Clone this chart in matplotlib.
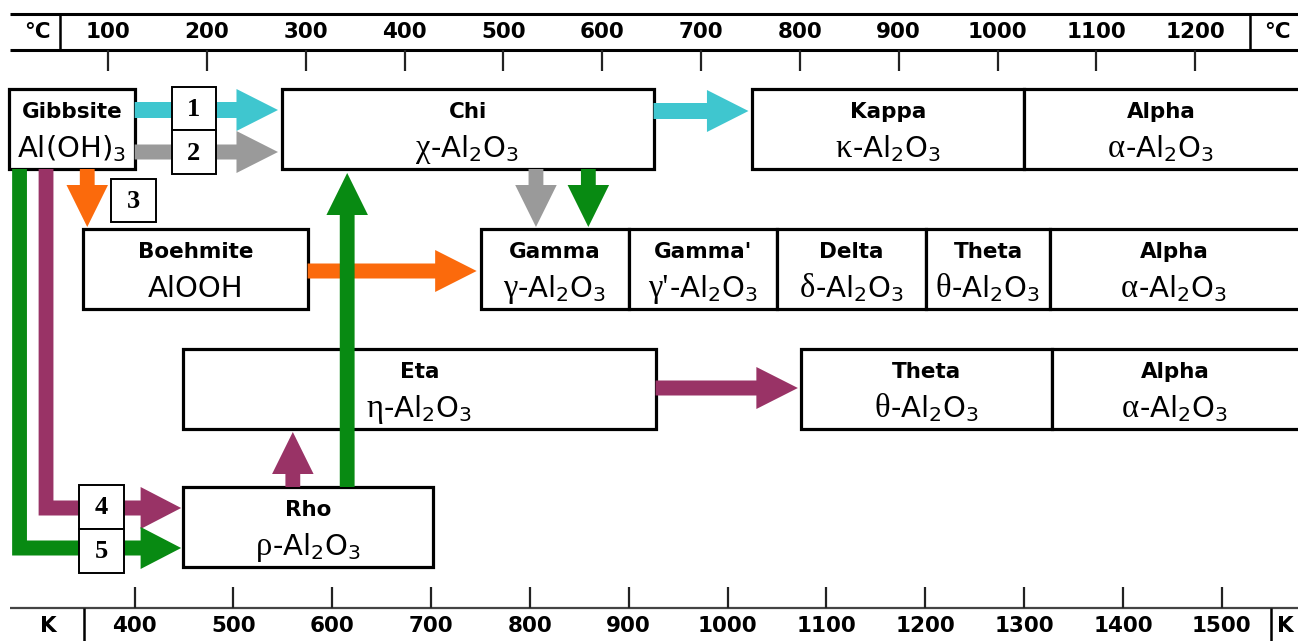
import numpy as np
import matplotlib.pyplot as plt
from matplotlib.patches import Rectangle, FancyArrow, Polygon
from matplotlib.transforms import offset_copy

# temperature scales (top in degC, bottom in K)
celsius_ticks = [100, 200, 300, 400, 500, 600, 700, 800, 900, 1000, 1100, 1200]
kelvin_ticks = [400, 500, 600, 700, 800, 900, 1000, 1100, 1200, 1300, 1400, 1500]

# phase fields, temperature limits in degC (None = open ended)
row0_names = ['Chi', 'Kappa', 'Alpha']
row0_greek = ['χ', 'κ', 'α']
row0_lo = [276, 752, 1027]
row0_hi = [652, 1027, None]

row1_names = ['Gamma', "Gamma'", 'Delta', 'Theta', 'Alpha']
row1_greek = ['γ', "γ'", 'δ', 'θ', 'α']
row1_lo = [477, 627, 777, 928, 1053]
row1_hi = [627, 777, 928, 1053, None]

row2_names = ['Eta', 'Theta', 'Alpha']
row2_greek = ['η', 'θ', 'α']
row2_lo = [176, 801, 1055]
row2_hi = [654, 1055, None]

row3_names = ['Rho']
row3_greek = ['ρ']
row3_lo = [176]
row3_hi = [429]

# starting materials
gibbsite_lo, gibbsite_hi = 0, 127
boehmite_lo, boehmite_hi = 75, 302

CYAN = '#3fc6cf'
GRAY = '#9a9a9a'
ORANGE = '#fb6a0c'
GREEN = '#088a12'
PURPLE = '#993366'
SERIF = ['Liberation Serif', 'DejaVu Serif']

XMIN, XMAX = -9.27, 1304.0
ROW_TOP = [89, 229, 349, 487]
ROW_H = 80
BOX_LW = 2.3

fig = plt.figure(figsize=(12.98, 6.41), dpi=100)
ax = fig.add_axes([0, 0, 1, 1])
ax.set_xlim(XMIN, XMAX)
ax.set_ylim(641, 0)
ax.axis('off')


def formula(xc, y, greek, rest, size=21):
    r = fig.canvas.get_renderer()
    g = ax.text(xc, y, greek, family=SERIF, fontsize=size * 1.12, va='baseline',
                ha='left', zorder=6)
    s = ax.text(xc, y, rest, fontsize=size, va='baseline', ha='left', zorder=6)
    wg = g.get_window_extent(r).width if greek else 0
    ws = s.get_window_extent(r).width
    left = -(wg + ws) / 2
    g.set_transform(offset_copy(ax.transData, fig=fig, x=left, y=0, units='dots'))
    s.set_transform(offset_copy(ax.transData, fig=fig, x=left + wg, y=0, units='dots'))


def phase_box(lo, hi, row, name, greek, rest='-Al$_2$O$_3$'):
    top = ROW_TOP[row]
    right = XMAX + 20 if hi is None else hi
    ax.add_patch(Rectangle((lo, top), right - lo, ROW_H, facecolor='white',
                           edgecolor='black', lw=BOX_LW, zorder=2))
    xc = (lo + (XMAX if hi is None else hi)) / 2
    ax.text(xc, top + 29, name, fontsize=15.5, fontweight='bold', ha='center',
            va='baseline', zorder=6)
    formula(xc, top + 68, greek, rest)


def arrow(x0, y0, x1, y1, color, w=15):
    ax.add_patch(FancyArrow(x0, y0, x1 - x0, y1 - y0, width=w, head_width=42,
                            head_length=42, length_includes_head=True,
                            color=color, lw=0, zorder=3))


def elbow(xv, y0, yh, xt, color, h=7.5, hh=21, hl=41):
    xb = xt - hl
    pts = [(xv - h, y0), (xv + h, y0), (xv + h, yh - h), (xb, yh - h), (xb, yh - hh),
           (xt, yh), (xb, yh + hh), (xb, yh + h), (xv - h, yh + h)]
    ax.add_patch(Polygon(pts, closed=True, facecolor=color, lw=0, zorder=3))


def num_box(x0, x1, y0, y1, label):
    ax.add_patch(Rectangle((x0, y0), x1 - x0, y1 - y0, facecolor='white',
                           edgecolor='black', lw=1.4, zorder=4))
    ax.text((x0 + x1) / 2, (y0 + y1) / 2 + 1, label, family=SERIF, fontsize=19,
            fontweight='bold', ha='center', va='center', zorder=6)


scale_font = dict(fontsize=15.5, fontweight='bold', ha='center', va='center')

# temperature scales
ax.hlines([14, 50], 1, XMAX, color='black', lw=2.2)
ax.vlines([51.4, 1255.4], 14, 50, color='black', lw=1.8)
ax.vlines(celsius_ticks, 50, 71, color='#222222', lw=1.6)
for t in celsius_ticks:
    ax.text(t, 32, str(t), **scale_font)
ax.text(29, 32, '°C', **scale_font)
ax.text(1283, 32, '°C', **scale_font)

kc = np.array(kelvin_ticks) - 273.15
ax.hlines(608, 1, XMAX, color='#444444', lw=1.6)
ax.vlines(kc, 587, 608, color='#222222', lw=1.6)
ax.vlines([75.7, 1276.7], 608, 641, color='black', lw=1.8)
for k, t in zip(kelvin_ticks, kc):
    ax.text(t, 626, str(k), **scale_font)
ax.text(40, 626, 'K', **scale_font)
ax.text(1291, 626, 'K', **scale_font)

# phase boxes
for row, (names, greek, lo, hi) in enumerate([
        (row0_names, row0_greek, row0_lo, row0_hi),
        (row1_names, row1_greek, row1_lo, row1_hi),
        (row2_names, row2_greek, row2_lo, row2_hi),
        (row3_names, row3_greek, row3_lo, row3_hi)]):
    for n, g, a, b in zip(names, greek, lo, hi):
        phase_box(a, b, row, n, g)

phase_box(gibbsite_lo, gibbsite_hi, 0, 'Gibbsite', '', 'Al(OH)$_3$')
phase_box(boehmite_lo, boehmite_hi, 1, 'Boehmite', '', 'AlOOH')

# transformation sequences
arrow(gibbsite_hi, 110, row0_lo[0] - 4, 110, CYAN, w=16)
arrow(row0_hi[0], 111, row0_lo[1] - 4, 111, CYAN, w=16)
arrow(gibbsite_hi, 152, row0_lo[0] - 4, 152, GRAY)
arrow(533, ROW_TOP[0] + ROW_H, 533, ROW_TOP[1] - 2, GRAY)
arrow(79, ROW_TOP[0] + ROW_H, 79, ROW_TOP[1] - 2, ORANGE)
arrow(boehmite_hi, 271, row1_lo[0] - 4, 271, ORANGE)
arrow(586, ROW_TOP[0] + ROW_H, 586, ROW_TOP[1] - 2, GREEN)
arrow(342, ROW_TOP[3], 342, ROW_TOP[0] + ROW_H + 4, GREEN)
arrow(287, ROW_TOP[3], 287, ROW_TOP[2] + ROW_H + 3, PURPLE)
arrow(row2_hi[0], 388, row2_lo[1] - 3, 388, PURPLE)
elbow(37.3, ROW_TOP[0] + ROW_H, 508, row3_lo[0] - 2, PURPLE)
elbow(10.5, ROW_TOP[0] + ROW_H, 548, row3_lo[0] - 2, GREEN)

num_box(165, 209, 87, 130, '1')
num_box(165, 209, 130, 174, '2')
num_box(103, 149, 179, 222, '3')
num_box(71, 116, 485, 529, '4')
num_box(71, 116, 529, 573, '5')

fig.savefig('out.png', dpi=100)
